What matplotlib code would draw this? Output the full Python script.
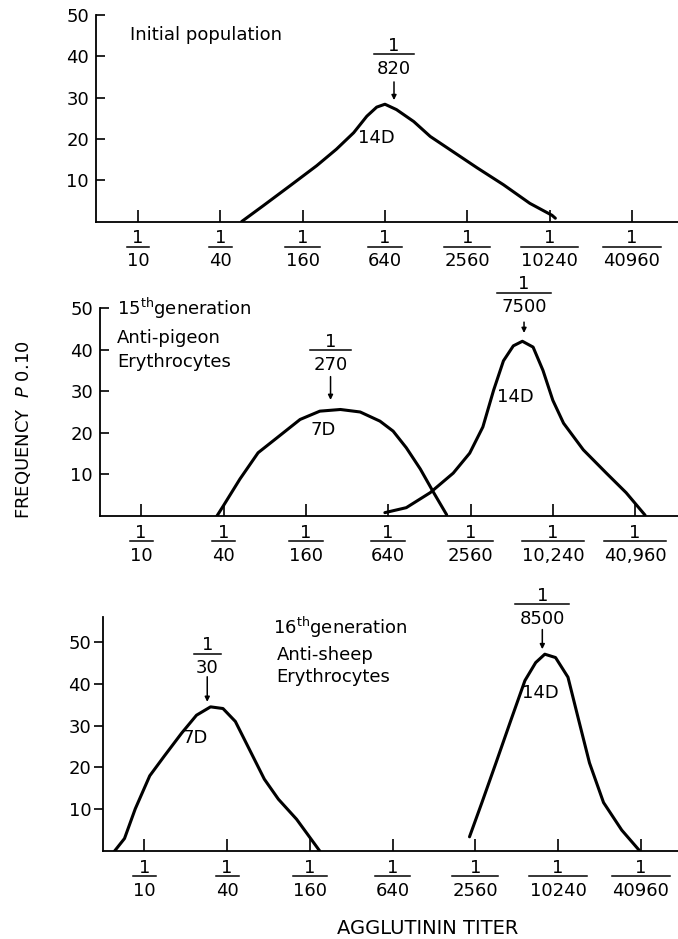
import numpy as np
import matplotlib.pyplot as plt
from matplotlib import transforms as mtrans

plt.rcParams['font.family'] = 'DejaVu Sans'
plt.rcParams['font.size'] = 13

# titer ticks (1/N), position = tick index
titers = ['10', '40', '160', '640', '2560', '10240', '40960']
titers_mid = ['10', '40', '160', '640', '2560', '10,240', '40,960']
yticks = [10, 20, 30, 40, 50]

# initial population, 14 D
p1_x = [1.26, 1.52, 1.85, 2.17, 2.41, 2.62, 2.78, 2.90, 3.00, 3.14, 3.35, 3.55,
        3.79, 4.12, 4.44, 4.76, 5.03, 5.07]
p1_y = [0, 3.8, 8.7, 13.5, 17.5, 21.5, 25.5, 27.7, 28.4, 27.1, 24.2, 20.6,
        17.4, 13.0, 8.9, 4.4, 1.5, 0.8]

# 15th generation, 7 D and 14 D
p2a_x = [0.92, 1.00, 1.20, 1.42, 1.65, 1.93, 2.17, 2.42, 2.66, 2.90, 3.06, 3.22,
         3.39, 3.55, 3.71]
p2a_y = [0, 2.5, 8.9, 15.2, 18.8, 23.2, 25.2, 25.6, 25.0, 22.8, 20.4, 16.4,
         11.3, 5.7, 0.3]
p2b_x = [2.96, 3.22, 3.51, 3.79, 3.99, 4.15, 4.28, 4.40, 4.52, 4.63, 4.76, 4.88,
         5.00, 5.13, 5.37, 5.65, 5.89, 6.12]
p2b_y = [0.8, 2.0, 5.6, 10.3, 15.1, 21.4, 30.2, 37.3, 40.9, 42.0, 40.6, 35.0,
         27.8, 22.3, 15.9, 10.3, 5.6, 0.2]

# 16th generation, 7 D and 14 D
p3a_x = [-0.36, -0.24, -0.11, 0.065, 0.24, 0.45, 0.63, 0.80, 0.95, 1.10, 1.27,
         1.45, 1.62, 1.84, 2.12]
p3a_y = [0, 3.0, 10.1, 18.0, 22.7, 28.2, 32.5, 34.5, 34.1, 31.0, 24.3,
         17.2, 12.4, 7.6, 0]
p3b_x = [3.93, 4.08, 4.25, 4.43, 4.60, 4.73, 4.84, 4.97, 5.12, 5.25, 5.38, 5.55,
         5.77, 5.98]
p3b_y = [3.4, 11.6, 21.1, 31.3, 40.8, 45.1, 47.1, 46.3, 41.6, 31.3, 21.1, 11.6,
         5.0, 0.2]

fig = plt.figure(figsize=(6.78, 9.39), dpi=100)


def frac(ax, x, y, num, dy=0.0, cw=11.5):
    # "1" over a bar over the number; (x, y) is the number's centre
    base = dy - 4.7
    ax.annotate(num, (x, y), xytext=(0, base), textcoords='offset points',
                ha='center', va='baseline', annotation_clip=False)
    ax.annotate('1', (x, y), xytext=(0, base + 16.6), textcoords='offset points',
                ha='center', va='baseline', annotation_clip=False)
    n = len(num.replace(',', '')) + 0.4 * num.count(',')
    hw = n * cw / 2 / 82.5
    tr = mtrans.offset_copy(ax.transData, fig=fig, x=0, y=dy + 9.4, units='points')
    ax.plot([x - hw, x + hw], [y, y], color='k', lw=1.1, transform=tr, clip_on=False)


def peak(ax, x, num_y, tail, tip, num):
    frac(ax, x, num_y, num, cw=13.5)
    ax.annotate('', xy=(x, tip), xytext=(x, tail),
                arrowprops=dict(arrowstyle='-|>', lw=1.1, color='k',
                                shrinkA=0, shrinkB=0, mutation_scale=7),
                annotation_clip=False)


def setup(ax, labels, xlim, ylim, ydir):
    for s in ['top', 'right']:
        ax.spines[s].set_visible(False)
    for s in ['left', 'bottom']:
        ax.spines[s].set_linewidth(1.3)
    ax.set_xticks(range(7))
    ax.set_xticklabels([])
    ax.tick_params(axis='x', direction='in', length=8.5, width=1.2)
    ax.set_yticks(yticks)
    ax.tick_params(axis='y', direction=ydir, length=6.5, width=1.2,
                   pad=5 if ydir == 'in' else 2, labelsize=13)
    for i, t in enumerate(labels):
        frac(ax, i, 0, t, dy=-27.4)
    ax.set_xlim(*xlim)
    ax.set_ylim(*ylim)
    ax.patch.set_alpha(0)


# panel 1
ax1 = fig.add_axes([96 / 678, 0.7641, 1 - 96 / 678, 0.2199])
ax1.plot(p1_x, p1_y, color='k', lw=2.2, solid_joinstyle='round', solid_capstyle='round')
peak(ax1, 3.11, 37.4, 33.8, 29.4, '820')
ax1.text(2.90, 20.2, '14D', ha='center', va='center')
ax1.text(-0.10, 45.2, 'Initial population', ha='left', va='center')
setup(ax1, titers, (-0.51, 6.56), (0, 50), 'in')

# panel 2
ax2 = fig.add_axes([100 / 678, 0.4505, 1 - 100 / 678, 0.2215])
ax2.plot(p2a_x, p2a_y, color='k', lw=2.2, solid_joinstyle='round', solid_capstyle='round')
ax2.plot(p2b_x, p2b_y, color='k', lw=2.2, solid_joinstyle='round', solid_capstyle='round')
peak(ax2, 2.30, 36.7, 33.5, 27.9, '270')
peak(ax2, 4.65, 50.5, 46.6, 44.0, '7500')
ax2.text(2.21, 20.7, '7D', ha='center', va='center')
ax2.text(4.54, 28.7, '14D', ha='center', va='center')
ax2.text(-0.29, 50.0, r'15$^{\mathrm{th}}$generation', ha='left', va='center')
ax2.text(-0.29, 42.8, 'Anti-pigeon', ha='left', va='center')
ax2.text(-0.29, 37.0, 'Erythrocytes', ha='left', va='center')
setup(ax2, titers_mid, (-0.50, 6.52), (0, 50), 'in')

# panel 3
ax3 = fig.add_axes([103 / 678, 0.0937, 1 - 103 / 678, 0.2492])
ax3.plot(p3a_x, p3a_y, color='k', lw=2.2, solid_joinstyle='round', solid_capstyle='round')
ax3.plot(p3b_x, p3b_y, color='k', lw=2.2, solid_joinstyle='round', solid_capstyle='round')
peak(ax3, 0.76, 44.1, 41.7, 35.7, '30')
peak(ax3, 4.81, 55.9, 53.0, 48.3, '8500')
ax3.text(0.62, 27.0, '7D', ha='center', va='center')
ax3.text(4.79, 37.8, '14D', ha='center', va='center')
ax3.text(1.55, 53.6, r'16$^{\mathrm{th}}$generation', ha='left', va='center')
ax3.text(1.60, 46.9, 'Anti-sheep', ha='left', va='center')
ax3.text(1.60, 41.6, 'Erythrocytes', ha='left', va='center')
setup(ax3, titers, (-0.50, 6.45), (0, 56), 'out')

fig.text(0.034, 0.542, 'FREQUENCY  $P$ 0.10', rotation=90, ha='center', va='center',
         fontsize=13)
fig.text(0.631, 0.0117, 'AGGLUTININ TITER', ha='center', va='center', fontsize=14)

fig.savefig('out.png', dpi=100)
